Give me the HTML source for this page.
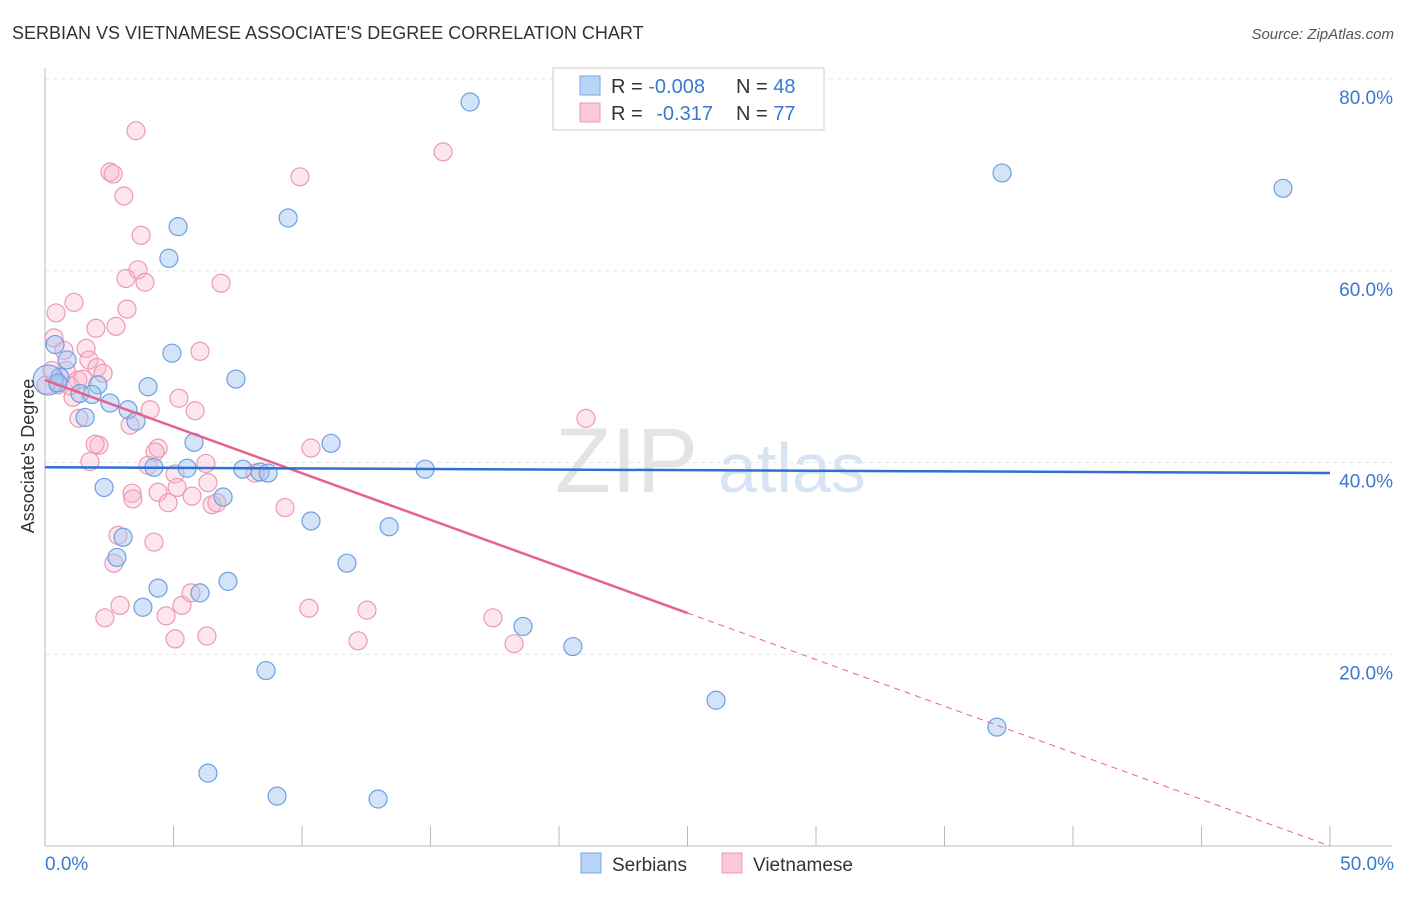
<!DOCTYPE html>
<html><head><meta charset="utf-8"><style>
body{margin:0;background:#fff;font-family:"Liberation Sans",sans-serif;}
svg text{font-family:"Liberation Sans",sans-serif;}
</style></head><body>
<svg id="c" width="1406" height="892" xmlns="http://www.w3.org/2000/svg">
<text x="12" y="39" font-size="18" fill="#333">SERBIAN VS VIETNAMESE ASSOCIATE'S DEGREE CORRELATION CHART</text>
<text x="1394" y="39" font-size="15" fill="#555" font-style="italic" text-anchor="end">Source: ZipAtlas.com</text>
<text x="555" y="492" font-size="92" fill="#e4e4e4" font-family="Liberation Serif">ZIP</text>
<text x="718" y="492" font-size="70" fill="#d6e4f4">atlas</text>
<g id="grid"></g><g id="marks"></g>
<text x="34" y="456" font-size="18" fill="#333" text-anchor="middle" transform="rotate(-90 34 456)">Associate's Degree</text>
<g>
<rect x="553" y="68" width="271" height="62" fill="#fff" stroke="#ccc"/>
<rect x="580" y="76" width="20" height="19" fill="#b8d4f6" stroke="#7aa6e4"/>
<rect x="580" y="103" width="20" height="19" fill="#fbc8d8" stroke="#ee9ab4"/>
<text x="611" y="93" font-size="20" fill="#333">R = <tspan fill="#3a78d0">-0.008</tspan></text>
<text x="736" y="93" font-size="20" fill="#333">N = <tspan fill="#3a78d0">48</tspan></text>
<text x="611" y="120" font-size="20" fill="#333">R = <tspan fill="#3a78d0" dx="8">-0.317</tspan></text>
<text x="736" y="120" font-size="20" fill="#333">N = <tspan fill="#3a78d0">77</tspan></text>
</g>
<g>
<rect x="581" y="853" width="20" height="20" fill="#b8d4f6" stroke="#7aa6e4"/>
<text x="612" y="871" font-size="19" fill="#333">Serbians</text>
<rect x="722" y="853" width="20" height="20" fill="#fbc8d8" stroke="#ee9ab4"/>
<text x="753" y="871" font-size="19" fill="#333">Vietnamese</text>
</g>
</svg>
<script>
const xTicks=[0,5,10,15,20,25,30,35,40,45,50];
const yTicks=[20,40,60,80];
const serbX=[16.54,37.24,48.17,9.46,5.18,4.82,0.39,4.94,0.86,7.43,4.01,2.06,0.58,1.36,1.83,2.53,1.56,3.23,3.54,5.80,11.13,4.24,5.53,7.70,8.37,8.68,14.79,2.30,6.93,10.35,13.39,3.04,2.80,11.75,7.12,4.40,6.03,3.81,18.60,20.54,8.60,26.11,37.04,6.34,9.03,12.96,0.12,0.50];
const serbY=[77.6,70.2,68.6,65.5,64.6,61.3,52.3,51.4,50.7,48.7,47.9,48.1,48.9,47.2,47.1,46.2,44.7,45.5,44.3,42.1,42.0,39.5,39.4,39.3,39.0,38.9,39.3,37.4,36.4,33.9,33.3,32.2,30.1,29.5,27.6,26.9,26.4,24.9,22.9,20.8,18.3,15.2,12.4,7.6,5.2,4.9,48.6,48.3];
const vietX=[3.54,15.49,2.53,2.65,3.07,9.92,3.74,3.62,3.15,3.89,6.85,1.13,0.43,3.19,1.98,2.76,0.35,6.03,1.60,0.74,1.71,0.82,2.02,2.26,1.28,1.48,0.51,1.09,5.21,5.84,4.09,1.32,3.31,4.40,4.28,2.10,1.95,6.26,1.75,4.01,5.06,8.17,6.34,5.14,3.39,4.40,3.42,5.72,4.79,6.50,9.34,6.69,10.35,21.05,2.84,4.24,2.68,2.92,5.33,5.68,2.33,4.71,10.27,12.53,17.43,5.06,6.30,12.18,18.25,0.04,0.27,0.97];
const vietY=[74.6,72.4,70.3,70.1,67.8,69.8,63.7,60.1,59.2,58.8,58.7,56.7,55.6,56.0,54.0,54.2,53.0,51.6,51.9,51.7,50.7,49.6,49.9,49.3,48.6,48.7,48.1,46.8,46.7,45.4,45.5,44.6,43.9,41.5,41.1,41.8,41.9,39.9,40.1,39.7,38.8,38.9,37.9,37.4,36.8,36.9,36.2,36.5,35.8,35.6,35.3,35.8,41.5,44.6,32.4,31.7,29.5,25.1,25.1,26.4,23.8,24.0,24.8,24.6,23.8,21.6,21.9,21.4,21.1,48.1,49.6,48.0];
const serbLine=[39.5,38.9];
const vietLine=[48.6,0];
const vietSolidEnd=25;
const X=v=>45+v*25.7, Y=v=>846-v*9.5875;
const NS="http://www.w3.org/2000/svg";
function mk(t,a,p){const e=document.createElementNS(NS,t);for(const k in a)e.setAttribute(k,a[k]);p.appendChild(e);return e;}
const g=document.getElementById('grid'), m=document.getElementById('marks');
yTicks.forEach(v=>{
 const l=mk('line',{x1:45,x2:1392,y1:Y(v),y2:Y(v),stroke:'#e4e4e4','stroke-dasharray':'4,4'},g);
 
 
 const t=mk('text',{x:1393,y:Y(v)+25,'font-size':19,fill:'#3a78d0','text-anchor':'end'},g);t.textContent=v.toFixed(1)+'%';
 
 
});
mk('line',{x1:45,x2:45,y1:68,y2:846,stroke:'#bbb'},g);
mk('line',{x1:45,x2:1392,y1:846,y2:846,stroke:'#bbb'},g);
xTicks.forEach(v=>{const l=mk('line',{x1:X(v),x2:X(v),y1:826,y2:846,stroke:'#bbb'},g);
 
 });
[[0,'0.0%','start',45],[50,'50.0%','end',1394]].forEach(a=>{const t=mk('text',{x:a[3],y:870,'font-size':19,fill:'#3a78d0','text-anchor':a[2]},g);t.textContent=a[1];
 
 });
vietX.forEach((v,i)=>{const c=mk('circle',{cx:X(v),cy:Y(vietY[i]),r:9,fill:'rgba(248,180,202,0.35)',stroke:'#ec9ab3','stroke-width':1.2},m);
 
 });
serbX.forEach((v,i)=>{const c=mk('circle',{cx:X(v),cy:Y(serbY[i]),r:i==46?15:9,fill:'rgba(160,196,240,0.45)',stroke:'#6e9fe2','stroke-width':1.2},m);
 
 });
const vy=x=>vietLine[0]+(vietLine[1]-vietLine[0])*x/50;
let l=mk('line',{x1:X(0),y1:Y(vy(0)),x2:X(vietSolidEnd),y2:Y(vy(vietSolidEnd)),stroke:'#e8608e','stroke-width':2.5},m);


l=mk('line',{x1:X(vietSolidEnd),y1:Y(vy(vietSolidEnd)),x2:X(50),y2:Y(vy(50)),stroke:'#e8608e','stroke-width':1,'stroke-dasharray':'6,5'},m);


l=mk('line',{x1:X(0),y1:Y(serbLine[0]),x2:X(50),y2:Y(serbLine[1]),stroke:'#2e6fd2','stroke-width':2.5},m);


</script>
</body></html>
